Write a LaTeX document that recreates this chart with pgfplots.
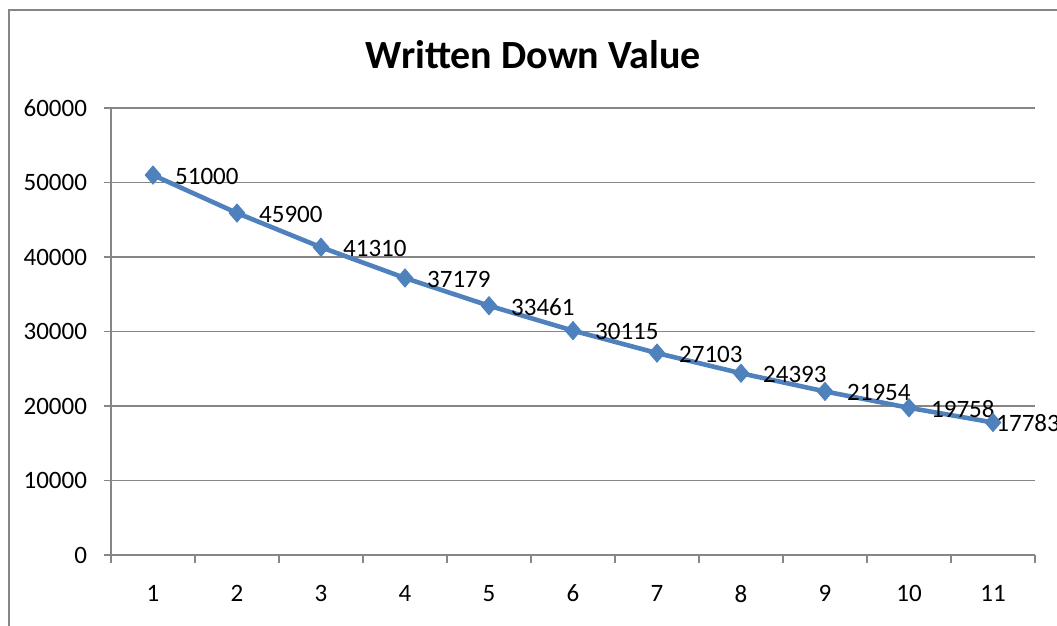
\documentclass[border=0pt]{standalone}
\usepackage{pgfplots}
\pgfplotsset{compat=1.18}
\usepackage{fontspec}
\setmainfont{Carlito}
\definecolor{xlblue}{RGB}{79,129,189}
\definecolor{gridgray}{RGB}{134,134,134}
\begin{document}
\begin{tikzpicture}
\useasboundingbox (0,0) rectangle (528.5pt,313pt);
\draw[gridgray, line width=1pt] (4.5pt,0) -- (4.5pt,308pt) -- (528.5pt,308pt);
\node[font=\fontsize{20}{22}\selectfont\bfseries] at (266.75pt,285.5pt) {Written Down Value};
\begin{axis}[
  at={(55.5pt,35.5pt)}, anchor=south west,
  scale only axis, width=462pt, height=223.5pt,
  xmin=0.5, xmax=11.5, ymin=0, ymax=60000,
  xtick={1,...,11},
  minor xtick={0.5,1.5,...,11.5},
  ytick={0,10000,...,60000},
  axis x line*=bottom, axis y line*=left,
  axis line style={gridgray, line width=0.6pt, -},
  ymajorgrids, major grid style={gridgray, line width=0.6pt},
  tick style={gridgray, line width=0.6pt},
  tick align=outside,
  major tick length=3.5pt, minor tick length=4pt,
  every major x tick/.append style={draw=none},
  xticklabel style={yshift=-8pt},
  yticklabel style={xshift=-5pt},
  ticklabel style={font=\fontsize{12.5}{14}\selectfont},
  /pgf/number format/assume math mode=true,
  scaled y ticks=false,
  yticklabel={\pgfmathprintnumber[fixed,1000 sep={}]{\tick}},
  clip=false,
  nodes near coords,
  nodes near coords style={font=\fontsize{12.5}{14}\selectfont, anchor=west, xshift=7.5pt, yshift=-0.5pt, black},
  point meta=explicit symbolic,
]
\addplot[color=xlblue, line width=2.3pt, mark=diamond*, mark size=4.5pt, mark options={fill=xlblue, line width=0.5pt, xscale=1.15}]
coordinates {
(1,51000) [51000]
(2,45900) [45900]
(3,41310) [41310]
(4,37179) [37179]
(5,33461) [33461]
(6,30115) [30115]
(7,27103) [27103]
(8,24393) [24393]
(9,21954) [21954]
(10,19758) [19758]
(11,17783) []
};
\addplot[draw=none, mark=none, nodes near coords style={xshift=-9.3pt}]
coordinates {
(11,17783) [17783]
};
\end{axis}
\end{tikzpicture}
\end{document}
